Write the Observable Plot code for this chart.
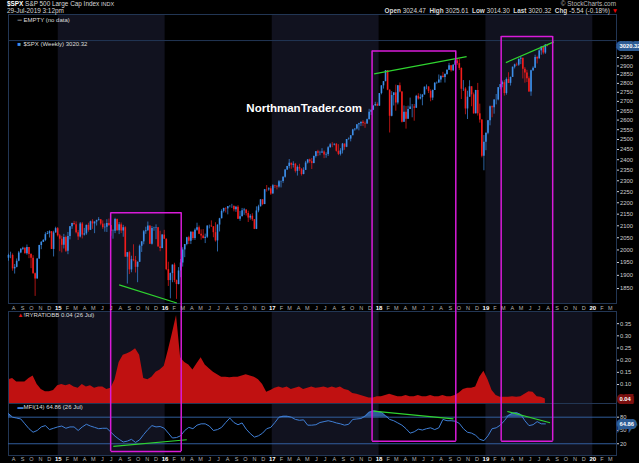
<!DOCTYPE html>
<html>
<head>
<meta charset="utf-8">
<script src="https://cdn.jsdelivr.net/npm/d3@7"></script>
<script src="https://cdn.jsdelivr.net/npm/@observablehq/plot@0.6"></script>
<style>
  body { margin: 0; background: #000; width: 639px; height: 463px; overflow: hidden;
         font-family: "Liberation Sans", Arial, sans-serif; color: #d8d8d8; }
  #hdr { position: relative; width: 639px; height: 14px; font-size: 6.4px; line-height: 7px; white-space: nowrap; }
  #hdr div { position: absolute; }
  #chart svg { display: block; }
</style>
</head>
<body>
<div id="hdr">
  <div id="l1" style="left:7px;top:0px"></div>
  <div id="l2" style="left:7px;top:6.5px"></div>
  <div id="r1" style="right:23px;top:0px;color:#bbb">© StockCharts.com</div>
  <div id="r2" style="right:21px;top:6.5px"></div>
</div>
<div id="chart"></div>
<script>
// weekly $SPX bars, first bar = week ending Fri 18-Jul-2014
const firstWeek = new Date(Date.UTC(2014, 6, 18));
const firstOpen = 1967;
const lastOpen = 3024.47, lastHigh = 3025.61, lastLow = 3014.30, lastClose = 3020.32;
const lastChg = -5.54, lastChgPct = -0.18;

const closes = [
  1978,1978,1925,1931,1955,1988,2003,2007,1985,2010,1982,1967,1906,1886,1964,2018,2031,2039,2063,2067,2075,2002,2070,2088,
  2058,2044,2019,2051,1995,2055,2096,2110,2104,2071,2053,2108,2061,2066,2102,2081,2117,2108,2116,2122,2126,2107,2092,2094,2110,2101,2076,2077,2127,2079,2104,2078,2092,1971,1989,1921,1961,1958,1931,1951,2015,2033,2075,2079,2099,2023,2089,2090,2092,2012,2006,2061,2044,
  1922,1880,1907,1940,1880,1865,1917,1948,2000,2022,2050,2035,2073,2047,2081,2092,2065,2057,2047,2052,2099,2099,2096,2071,2037,2103,2130,2162,2175,2173,2183,2184,2184,2169,2180,2128,2139,2165,2168,2153,2133,2141,2126,2085,2164,2182,2213,2192,2259,2258,2263,2239,
  2277,2275,2271,2295,2297,2316,2351,2367,2383,2373,2378,2344,2363,2355,2329,2349,2384,2399,2390,2382,2416,2439,2432,2433,2438,2423,2425,2459,2473,2472,2476,2441,2426,2443,2477,2461,2500,2502,2519,2549,2553,2575,2581,2588,2582,2579,2602,2642,2652,2675,2683,2674,
  2743,2786,2810,2873,2762,2620,2732,2747,2691,2786,2752,2588,2641,2604,2656,2670,2670,2663,2728,2713,2721,2735,2779,2780,2755,2718,2760,2801,2802,2819,2840,2833,2850,2875,2902,2872,2905,2930,2914,2886,2767,2768,2659,2723,2781,2736,2633,2760,2633,2600,2417,2486,
  2532,2596,2671,2665,2707,2708,2776,2793,2804,2743,2822,2800,2834,2893,2907,2905,2940,2946,2881,2860,2826,2752,2873,2887,2950,2942,2990,3014,2977,3026,lastClose
];
const highs = [
  1983,1991,1984,1942,1964,1994,2005,2011,2009,2020,2010,1985,1977,1909,1965,2019,2034,2042,2071,2076,2079,2076,2077,2094,
  2093,2064,2056,2064,2057,2072,2097,2111,2119,2117,2080,2114,2114,2089,2103,2111,2120,2126,2117,2124,2135,2126,2121,2108,2126,2129,2098,2083,2132,2129,2114,2112,2102,2096,1990,1993,1975,2021,1974,1952,2020,2034,2080,2094,2116,2099,2097,2094,2104,2093,2077,2063,2081,
  2045,1951,1909,1940,1947,1882,1930,1962,2009,2022,2052,2056,2075,2074,2087,2111,2099,2083,2084,2065,2100,2103,2121,2096,2113,2104,2132,2169,2176,2178,2183,2188,2193,2187,2184,2187,2162,2175,2175,2169,2163,2148,2152,2127,2182,2189,2214,2214,2260,2278,2268,2273,
  2282,2279,2277,2301,2299,2319,2352,2368,2401,2383,2390,2382,2370,2378,2356,2361,2392,2400,2403,2406,2418,2440,2446,2441,2454,2443,2434,2464,2479,2484,2478,2480,2474,2454,2480,2475,2500,2508,2520,2552,2555,2575,2583,2589,2597,2590,2605,2657,2653,2676,2695,2692,
  2743,2787,2810,2873,2870,2763,2754,2747,2790,2787,2802,2753,2675,2672,2674,2718,2683,2683,2733,2742,2739,2737,2779,2791,2774,2764,2763,2804,2808,2848,2841,2863,2855,2877,2916,2902,2908,2941,2940,2940,2889,2816,2776,2756,2815,2781,2746,2761,2800,2685,2601,2520,
  2533,2598,2675,2675,2709,2738,2776,2794,2813,2816,2831,2861,2836,2894,2911,2917,2940,2954,2931,2891,2875,2837,2876,2895,2964,2958,2996,3014,3018,3028,lastHigh
];
const lows = [
  1955,1965,1916,1905,1929,1953,1985,1998,1984,1979,1965,1926,1905,1821,1886,1962,2001,2030,2034,2064,2049,2002,1972,2069,
  2053,1993,1988,2004,1990,1981,2041,2085,2103,2066,2039,2049,2045,2057,2060,2073,2080,2085,2067,2099,2121,2100,2085,2073,2072,2097,2056,2044,2067,2077,2063,2067,2052,1971,1867,1903,1910,1953,1909,1872,1950,1990,2021,2064,2077,2022,2020,2077,2042,2012,1993,2005,2043,
  1918,1858,1812,1872,1872,1810,1864,1891,1932,1969,2017,2022,2022,2039,2039,2077,2063,2040,2045,2026,2047,2087,2093,2050,2032,1992,2074,2131,2155,2155,2147,2178,2175,2160,2158,2127,2119,2139,2145,2142,2114,2124,2119,2084,2084,2156,2183,2187,2192,2248,2252,2233,
  2245,2264,2258,2266,2267,2288,2312,2348,2356,2354,2360,2336,2322,2344,2322,2328,2371,2379,2381,2353,2380,2408,2415,2419,2430,2405,2407,2416,2456,2459,2468,2437,2420,2418,2428,2446,2459,2496,2488,2520,2542,2548,2544,2566,2566,2557,2578,2603,2624,2650,2676,2673,
  2682,2736,2768,2809,2759,2533,2617,2675,2647,2681,2747,2585,2594,2553,2605,2668,2612,2594,2662,2707,2708,2676,2737,2764,2743,2698,2704,2763,2795,2800,2802,2830,2802,2846,2878,2864,2868,2903,2904,2874,2710,2755,2628,2603,2723,2671,2631,2649,2621,2584,2409,2347,
  2444,2524,2570,2612,2631,2681,2703,2764,2775,2729,2734,2799,2785,2848,2883,2897,2898,2908,2825,2801,2805,2750,2728,2868,2887,2912,2952,2964,2966,2969,lastLow
];

// indicator panels, read every second week from the first bar
const ratioVals = [
  0.12,0.125,0.11,0.11,0.11,0.125,0.135,0.10,0.08,0.07,
  0.07,0.075,0.095,0.10,0.095,0.10,0.09,0.085,0.10,0.09,
  0.095,0.085,0.09,0.09,0.08,0.085,0.12,0.19,0.22,0.226,
  0.235,0.247,0.22,0.125,0.12,0.13,0.15,0.16,0.175,0.24,
  0.31,0.384,0.21,0.19,0.18,0.16,0.185,0.21,0.18,0.165,
  0.15,0.14,0.13,0.13,0.128,0.13,0.13,0.135,0.14,0.135,
  0.13,0.12,0.10,0.068,0.075,0.085,0.09,0.085,0.09,0.08,
  0.085,0.09,0.08,0.085,0.09,0.085,0.087,0.09,0.085,0.09,
  0.085,0.09,0.08,0.075,0.063,0.06,0.055,0.05,0.045,0.045,
  0.05,0.05,0.055,0.06,0.055,0.05,0.05,0.055,0.05,0.05,
  0.055,0.05,0.05,0.055,0.05,0.05,0.055,0.05,0.05,0.055,
  0.065,0.08,0.085,0.085,0.09,0.13,0.155,0.12,0.075,0.055,
  0.048,0.048,0.048,0.05,0.048,0.05,0.06,0.07,0.068,0.05,
  0.048,0.04
];
const mfiVals = [
  88,80,78,76,65,54,46,50,58,61,
  52,55,58,60,55,58,58,50,58,64,
  60,57,54,55,55,46,37,30,24,26,
  30,23,29,41,52,61,58,59,55,44,
  33,34,38,50,57,54,62,65,65,60,
  50,52,57,68,78,68,63,67,53,43,
  35,38,44,54,57,68,80,82,82,80,
  75,73,74,62,62,63,68,70,72,70,
  67,65,62,64,75,76,77,82,91,94,
  93,91,83,75,72,67,62,54,44,47,
  53,51,54,56,52,56,75,72,72,71,
  66,54,46,44,39,30,27,38,54,56,
  62,72,84,89,90,86,72,61,63,70,
  65,64.86
];

const priceTicks = [1850,1900,1950,2000,2050,2100,2150,2200,2250,2300,2350,2400,2450,2500,2550,2600,2650,2700,2750,2800,2850,2900,2950];
const ratioTicks = [0.10,0.15,0.20,0.25,0.30,0.35];
const mfiTicks = [20,50,80];
const shadedYears = [2015, 2017, 2019];

// annotations (magenta boxes, green trend lines)
const boxStart = ["2015-06-29", "2017-12-08", "2019-02-22"];
const boxEnd   = ["2016-02-25", "2018-09-20", "2019-08-17"];
const boxTop   = [2156, 2990, 3078];
const boxBottom = [2.6, 25.9, 25.9];
const priceTrends = [
  ["2015-07-28", 1864, "2016-02-10", 1797],
  ["2017-12-15", 2854, "2018-10-27", 2956],
  ["2019-03-10", 2920, "2019-08-21", 3045]
];
const mfiTrends = [
  ["2015-07-08", 13.9, "2016-03-15", 29],
  ["2017-12-13", 93.5, "2018-09-12", 76.4],
  ["2019-03-15", 92.9, "2019-08-08", 67.4]
];

const day = s => new Date(s + "T00:00:00Z");
const barDate = i => d3.utcDay.offset(firstWeek, 7 * i - 3);

const bars = closes.map((c, i) => {
  const open = i === 0 ? firstOpen : i === closes.length - 1 ? lastOpen : closes[i - 1];
  return {date: barDate(i), open, close: c,
          high: Math.max(highs[i], open, c), low: Math.min(lows[i], open, c)};
});
const ratioRows = ratioVals.map((v, j) => ({date: barDate(2 * j), v}));
const mfiRows = mfiVals.map((v, j) => ({date: barDate(2 * j), v}));
const boxes = boxStart.map((s, i) => ({x1: day(s), x2: day(boxEnd[i]), top: boxTop[i], bottom: boxBottom[i]}));
const boxSides = boxes.flatMap(b => [{x: b.x1, ...b}, {x: b.x2, ...b}]);
const toLink = a => ({x1: day(a[0]), y1: a[1], x2: day(a[2]), y2: a[3]});

const W = 639, ML = 8, MR = 23;
const xDomain = [new Date(Date.UTC(2014, 6, 15)), new Date(Date.UTC(2020, 2, 22))];
const priceLow = 1795, priceHigh = 3218, splitPrice = 3053;
const ratioDomain = [0.022, 0.40];
const mfiDomain = [-6.5, 110.9];

const BLUE = "#3d8ee8", RED = "#f21c1c", MAGENTA = "#d91bd9", GREEN = "#2fd42f";
const BORDER = "#223654", SHADE = "#11121f", TXT = "#cfcfcf";
const font = "Liberation Sans, Arial, sans-serif";
const style = {background: "#000", color: TXT, fontFamily: font, fontSize: "6px", overflow: "visible"};

const bands = () => Plot.rect(shadedYears, {
  x1: d => new Date(Date.UTC(d, 0, 1)), x2: d => new Date(Date.UTC(d + 1, 0, 1)), fill: SHADE
});
const months = d3.utcMonth.range(new Date(Date.UTC(2014, 7, 1)), new Date(Date.UTC(2020, 3, 1)));
const monthAxis = anchor => [
  Plot.axisX({anchor, ticks: months.filter(d => d.getUTCMonth() !== 0),
    tickFormat: d => "JFMAMJJASOND"[d.getUTCMonth()], tickSize: 0, tickPadding: 1.5,
    fontSize: 5.5, color: "#b5b5b5", label: null}),
  Plot.axisX({anchor, ticks: months.filter(d => d.getUTCMonth() === 0),
    tickFormat: d3.utcFormat("%y"), tickSize: 0, tickPadding: 1.5,
    fontSize: 6, fontWeight: "bold", color: "#fff", label: null})
];
const rightAxis = (ticks, fmt) => Plot.axisY({anchor: "right", ticks, tickFormat: fmt,
  tickSize: 2, tickPadding: 1.5, fontSize: 5.8, color: TXT, label: null});
const tag = (value, txt, bg) => Plot.text([value], {x: xDomain[1], y: d => d, text: () => txt,
  textAnchor: "start", dx: 3, fill: "#fff", stroke: bg, strokeWidth: 6, strokeLinejoin: "miter",
  fontSize: 5.8, fontWeight: "bold"});
const legend = (icon, iconColor, label, opts) => [
  Plot.text([icon], {...opts, text: d => d, dx: 9, fill: iconColor, fontSize: 6, textAnchor: "start"}),
  Plot.text([label], {...opts, text: d => d, dx: 15, fill: "#ddd", fontSize: 6, textAnchor: "start"})
];

// header
document.getElementById("l1").innerHTML = '<b style="color:#fff">$SPX</b> S&amp;P 500 Large Cap Index <span style="font-size:5.5px">INDX</span>';
document.getElementById("l2").textContent = "29-Jul-2019 3:12pm";
document.getElementById("r2").innerHTML =
  `<b>Open</b> ${lastOpen.toFixed(2)} &nbsp;<b>High</b> ${lastHigh.toFixed(2)} &nbsp;<b>Low</b> ${lastLow.toFixed(2)} &nbsp;<b>Last</b> ${lastClose.toFixed(2)} &nbsp;<b>Chg</b> ${lastChg.toFixed(2)} (${lastChgPct.toFixed(2)}%) <span style="color:#e00">&#9660;</span>`;

const upColor = d => d.close >= d.open ? BLUE : RED;

// price panel (with the empty panel on top of it)
const pricePlot = Plot.plot({
  width: W, height: 289, marginLeft: ML, marginRight: MR, marginTop: 0, marginBottom: 0,
  style,
  x: {type: "utc", domain: xDomain, axis: null},
  y: {type: "log", domain: [priceLow, priceHigh]},
  color: {type: "identity"},
  marks: [
    bands(),
    Plot.ruleY([splitPrice], {stroke: BORDER}),
    Plot.frame({stroke: BORDER}),
    Plot.text(["NorthmanTrader.com"], {x: day("2017-04-20"), y: 2661, text: d => d,
      fill: "#fff", fontSize: 11.5, fontWeight: "bold", fontFamily: font}),
    Plot.ruleX(bars, {x: "date", y1: "low", y2: "high", stroke: upColor, strokeWidth: 0.7}),
    Plot.ruleX(bars, {x: "date", y1: "open", y2: "close", stroke: upColor, strokeWidth: 1.6}),
    Plot.link(priceTrends.map(toLink), {x1: "x1", y1: "y1", x2: "x2", y2: "y2", stroke: GREEN, strokeWidth: 1.2}),
    Plot.ruleX(boxSides, {x: "x", y1: "top", y2: priceLow, stroke: MAGENTA, strokeWidth: 1.5}),
    Plot.link(boxes, {x1: "x1", x2: "x2", y1: "top", y2: "top", stroke: MAGENTA, strokeWidth: 1.5}),
    ...legend("\u2550", "#aaa", "EMPTY (no data)", {frameAnchor: "top-left", dy: 3, lineAnchor: "top"}),
    ...legend("\u25A0", BLUE, `$SPX (Weekly) ${lastClose.toFixed(2)}`,
      {x: xDomain[0], y: splitPrice, dy: 1.5, lineAnchor: "top"}),
    rightAxis(priceTicks, d => `${d}`),
    tag(lastClose, lastClose.toFixed(2), "#2d5c94")
  ]
});

// ratio panel
const ratioPlot = Plot.plot({
  width: W, height: 100, marginLeft: ML, marginRight: MR, marginTop: 8, marginBottom: 0,
  style,
  x: {type: "utc", domain: xDomain},
  y: {domain: ratioDomain},
  marks: [
    bands(),
    Plot.areaY(ratioRows, {x: "date", y1: ratioDomain[0], y2: "v", fill: "#c01111"}),
    Plot.frame({stroke: BORDER}),
    Plot.ruleX(boxSides, {x: "x", insetTop: -8, stroke: MAGENTA, strokeWidth: 1.5}),
    ...legend("\u25B2", "#e01515", `!RYRATIOBB ${ratioVals[ratioVals.length - 1].toFixed(2)} (26 Jul)`,
      {frameAnchor: "top-left", dy: 1.5, lineAnchor: "top"}),
    rightAxis(ratioTicks, d3.format(".2f")),
    tag(ratioVals[ratioVals.length - 1], ratioVals[ratioVals.length - 1].toFixed(2), "#7a1010"),
    ...monthAxis("top")
  ]
});

// MFI panel
const mfiPlot = Plot.plot({
  width: W, height: 60, marginLeft: ML, marginRight: MR, marginTop: 0, marginBottom: 8,
  style,
  x: {type: "utc", domain: xDomain},
  y: {domain: mfiDomain},
  marks: [
    bands(),
    Plot.frame({stroke: BORDER}),
    Plot.ruleY([20, 80], {stroke: "#3566ad", strokeWidth: 0.9}),
    Plot.areaY(mfiRows, {x: "date", y1: 80, y2: d => Math.max(d.v, 80), fill: "#3567ad", fillOpacity: 0.85}),
    Plot.areaY(mfiRows, {x: "date", y1: 20, y2: d => Math.min(d.v, 20), fill: "#3567ad", fillOpacity: 0.85}),
    Plot.line(mfiRows, {x: "date", y: "v", stroke: "#3f7fd6", strokeWidth: 1}),
    Plot.link(mfiTrends.map(toLink), {x1: "x1", y1: "y1", x2: "x2", y2: "y2", stroke: GREEN, strokeWidth: 1.2}),
    Plot.ruleX(boxSides, {x: "x", y1: "bottom", y2: mfiDomain[1], stroke: MAGENTA, strokeWidth: 1.5}),
    Plot.link(boxes, {x1: "x1", x2: "x2", y1: "bottom", y2: "bottom", stroke: MAGENTA, strokeWidth: 1.5}),
    ...legend("\u25AC", "#3f7fd6", `MFI(14) ${mfiVals[mfiVals.length - 1].toFixed(2)} (26 Jul)`,
      {frameAnchor: "top-left", dy: 1.5, lineAnchor: "top"}),
    rightAxis(mfiTicks, d => `${d}`),
    tag(mfiVals[mfiVals.length - 1], mfiVals[mfiVals.length - 1].toFixed(2), "#2d5c94"),
    ...monthAxis("bottom")
  ]
});

const chart = d3.select("#chart");
chart.append(() => pricePlot);
chart.append(() => ratioPlot);
chart.append(() => mfiPlot);
</script>
</body>
</html>
